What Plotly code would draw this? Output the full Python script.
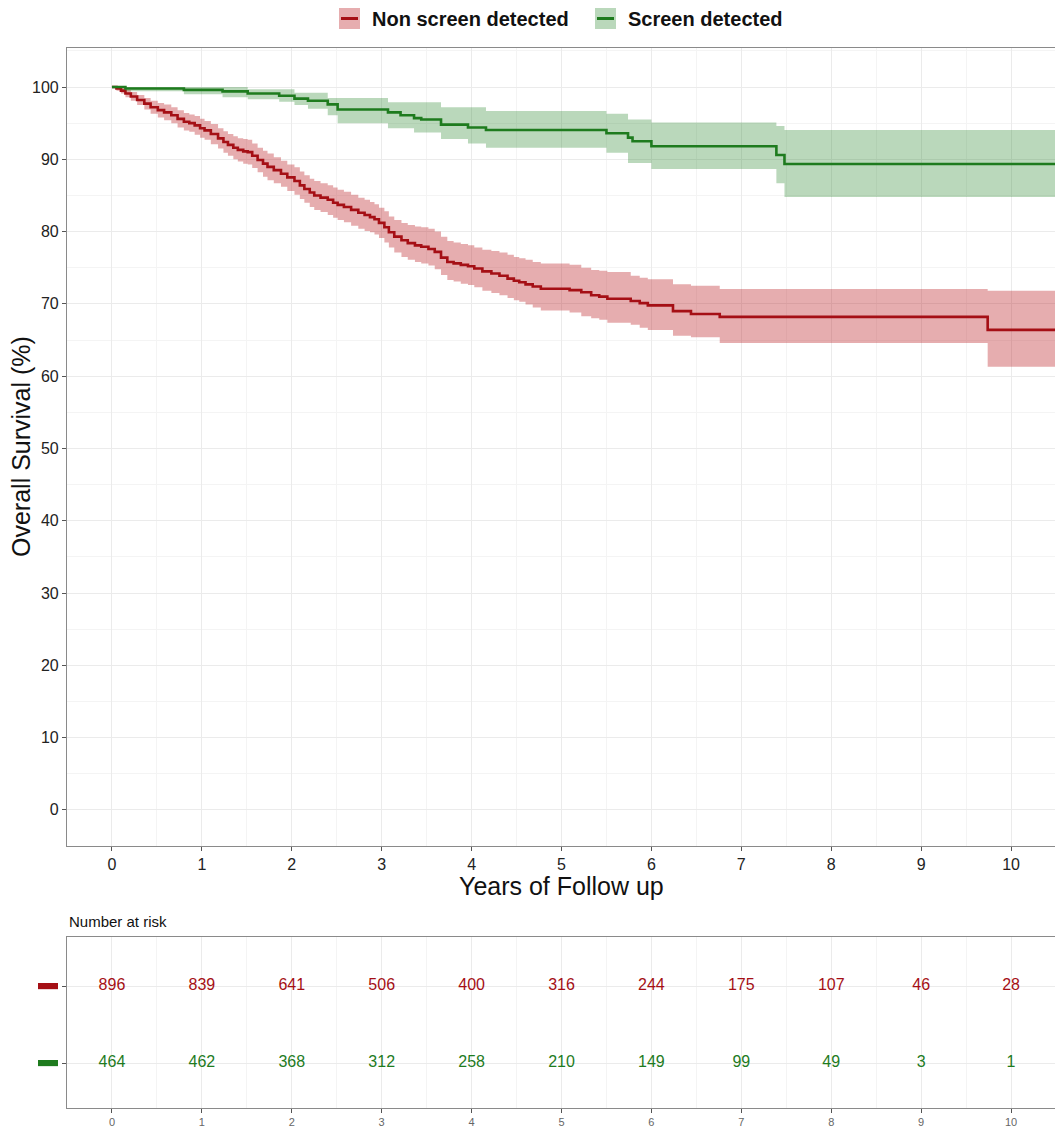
import plotly.graph_objects as go

# ---------------- data ----------------
times_non = [0.00, 0.05, 0.10, 0.15, 0.21, 0.28, 0.36, 0.43, 0.51, 0.58, 0.66, 0.73, 0.80, 0.86, 0.92, 0.98,
             1.03, 1.10, 1.18, 1.24, 1.29, 1.35, 1.40, 1.46, 1.51, 1.56, 1.62, 1.68, 1.73, 1.80, 1.88, 1.95,
             2.03, 2.09, 2.14, 2.20, 2.25, 2.32, 2.40, 2.46, 2.51, 2.58, 2.66, 2.74, 2.81, 2.87, 2.92, 2.97,
             3.03, 3.08, 3.14, 3.22, 3.29, 3.37, 3.44, 3.52, 3.59, 3.66, 3.73, 3.80, 3.88, 3.96,
             4.03, 4.12, 4.22, 4.31, 4.40, 4.47, 4.53, 4.60, 4.68, 4.77,
             5.09, 5.22, 5.33, 5.42, 5.51, 5.77, 5.87, 5.96, 6.24, 6.44, 6.76, 9.74, 10.5]
surv_non = [100.0, 99.8, 99.5, 99.1, 98.7, 98.2, 97.7, 97.2, 96.8, 96.5, 96.1, 95.6, 95.2, 95.0, 94.7, 94.3,
            94.0, 93.5, 92.9, 92.4, 92.0, 91.6, 91.3, 91.1, 91.0, 90.5, 89.9, 89.4, 88.95, 88.5, 88.0, 87.5,
            87.0, 86.4, 85.9, 85.4, 85.0, 84.7, 84.4, 84.0, 83.7, 83.4, 83.0, 82.6, 82.3, 82.0, 81.7, 81.2,
            80.6, 79.9, 79.3, 78.8, 78.4, 78.1, 77.9, 77.6, 77.2, 76.4, 75.8, 75.6, 75.4, 75.2,
            74.9, 74.5, 74.2, 73.9, 73.5, 73.2, 73.0, 72.7, 72.4, 72.1,
            71.9, 71.6, 71.2, 71.0, 70.7, 70.4, 70.1, 69.8, 69.0, 68.6, 68.2, 66.4, 66.4]
lower_non = [100.0, 99.5, 99.1, 98.6, 98.1, 97.5, 96.9, 96.3, 95.8, 95.4, 95.0, 94.4, 94.0, 93.8, 93.4, 93.0,
             92.7, 92.1, 91.5, 90.9, 90.5, 90.0, 89.7, 89.4, 89.3, 88.8, 88.2, 87.6, 87.1, 86.7, 86.2, 85.6,
             85.1, 84.5, 84.0, 83.4, 83.0, 82.7, 82.3, 81.9, 81.6, 81.3, 80.8, 80.4, 80.1, 79.9, 79.6, 79.1,
             78.5, 77.8, 77.1, 76.5, 76.1, 75.8, 75.6, 75.3, 74.8, 74.0, 73.3, 73.1, 72.8, 72.6,
             72.3, 71.8, 71.5, 71.2, 70.8, 70.5, 70.3, 69.9, 69.5, 69.1,
             68.8, 68.3, 68.0, 67.8, 67.4, 67.1, 66.7, 66.4, 65.6, 65.4, 64.6, 61.3, 61.3]
upper_non = [100.0, 100.0, 99.9, 99.6, 99.3, 98.9, 98.5, 98.1, 97.8, 97.6, 97.2, 96.8, 96.4, 96.2, 96.0, 95.6,
             95.3, 94.9, 94.3, 93.9, 93.5, 93.2, 92.9, 92.8, 92.7, 92.2, 91.6, 91.2, 90.8, 90.3, 89.8, 89.3,
             88.9, 88.3, 87.8, 87.3, 87.0, 86.7, 86.4, 86.1, 85.8, 85.5, 85.1, 84.7, 84.4, 84.1, 83.8, 83.3,
             82.8, 82.1, 81.6, 81.2, 80.9, 80.7, 80.6, 80.4, 80.0, 79.3, 78.7, 78.5, 78.3, 78.1,
             77.8, 77.5, 77.3, 77.1, 76.8, 76.5, 76.3, 76.1, 75.8, 75.6,
             75.4, 75.0, 74.7, 74.6, 74.4, 73.9, 73.6, 73.4, 72.7, 72.5, 72.06, 71.8, 71.8]

times_scr = [0.00, 0.15, 0.80, 1.23, 1.51, 1.86, 2.03, 2.18, 2.40, 2.51, 3.07, 3.21, 3.36, 3.44, 3.66, 3.96,
             4.16, 5.50, 5.74, 5.79, 6.00, 7.39, 7.48, 10.5]
surv_scr = [100.0, 99.8, 99.6, 99.4, 99.1, 98.8, 98.4, 98.1, 97.6, 96.9, 96.5, 96.1, 95.7, 95.5, 94.8, 94.4,
            94.05, 93.6, 93.0, 92.5, 91.8, 90.6, 89.35, 89.35]
lower_scr = [100.0, 99.4, 99.0, 98.6, 98.3, 97.95, 97.5, 97.0, 96.1, 95.0, 94.3, 94.3, 93.7, 93.7, 92.8, 92.2,
             91.6, 90.9, 89.5, 89.5, 88.66, 86.7, 84.8, 84.8]
upper_scr = [100.0, 100.0, 100.0, 100.0, 99.7, 99.7, 99.2, 99.2, 98.5, 98.5, 97.9, 97.9, 97.9, 97.9, 97.2, 97.2,
             96.7, 96.3, 95.5, 95.5, 95.1, 94.6, 94.05, 94.05]

risk_times = [0, 1, 2, 3, 4, 5, 6, 7, 8, 9, 10]
risk_non = [896, 839, 641, 506, 400, 316, 244, 175, 107, 46, 28]
risk_scr = [464, 462, 368, 312, 258, 210, 149, 99, 49, 3, 1]

group_names = ["Non screen detected", "Screen detected"]
y_ticks = [0, 10, 20, 30, 40, 50, 60, 70, 80, 90, 100]
x_ticks = [0, 1, 2, 3, 4, 5, 6, 7, 8, 9, 10]

# ---------------- style ----------------
OFF = 8  # page body margin of the html page
W, H = 1063 - OFF, 1129 - OFF
RED = "#A50F15"
GREEN = "#1E7B1E"
RED_FILL = "rgba(190,40,45,0.38)"
GREEN_FILL = "rgba(40,135,45,0.32)"
FONT = "Liberation Sans, Arial, sans-serif"
GRID = "#EBEBEB"
MINOR = "#F4F4F4"
BORDER = "#8A8A8A"


def px(x):
    return (x - OFF) / W


def py(y):
    return 1 - (y - OFF) / H


fig = go.Figure()


def add_group(t, s, lo, hi, line_color, fill_color, name):
    fig.add_trace(go.Scatter(x=t, y=hi, mode="lines", line=dict(width=0, shape="hv", color=fill_color),
                             showlegend=False, hoverinfo="skip"))
    fig.add_trace(go.Scatter(x=t, y=lo, mode="lines", line=dict(width=0, shape="hv", color=fill_color),
                             fill="tonexty", fillcolor=fill_color, showlegend=False, hoverinfo="skip"))
    fig.add_trace(go.Scatter(x=t, y=s, mode="lines", line=dict(width=2.6, color=line_color, shape="hv"),
                             name=name, showlegend=False))


add_group(times_non, surv_non, lower_non, upper_non, RED, RED_FILL, group_names[0])
add_group(times_scr, surv_scr, lower_scr, upper_scr, GREEN, GREEN_FILL, group_names[1])

# risk table
fig.add_trace(go.Scatter(x=risk_times, y=[2] * len(risk_times), mode="text",
                         text=[str(v) for v in risk_non], textfont=dict(color=RED, size=16, family=FONT),
                         xaxis="x2", yaxis="y2", showlegend=False, hoverinfo="skip"))
fig.add_trace(go.Scatter(x=risk_times, y=[1] * len(risk_times), mode="text",
                         text=[str(v) for v in risk_scr], textfont=dict(color=GREEN, size=16, family=FONT),
                         xaxis="x2", yaxis="y2", showlegend=False, hoverinfo="skip"))

x_dom = [px(67), px(1056)]
axis_common = dict(showline=True, mirror=True, linecolor=BORDER, linewidth=1.2, zeroline=False,
                   ticks="outside", ticklen=4, tickcolor="#555", automargin=False)

fig.update_layout(
    width=W, height=H,
    margin=dict(l=0, r=0, t=0, b=0, pad=0),
    paper_bgcolor="white", plot_bgcolor="white",
    font=dict(family=FONT, color="#222"),
    showlegend=False,
    xaxis=dict(domain=x_dom, range=[-0.5, 10.5], tickvals=x_ticks, anchor="y",
               showgrid=True, gridcolor=GRID, gridwidth=1,
               minor=dict(dtick=0.5, tick0=0, showgrid=True, gridcolor=MINOR, gridwidth=1),
               tickfont=dict(size=16, color="#222"), **axis_common),
    yaxis=dict(domain=[py(846), py(48)], range=[-5, 105.4], tickvals=y_ticks, anchor="x",
               showgrid=True, gridcolor=GRID, gridwidth=1,
               minor=dict(dtick=5, tick0=0, showgrid=True, gridcolor=MINOR, gridwidth=1),
               tickfont=dict(size=16, color="#222"), **axis_common),
    xaxis2=dict(domain=x_dom, range=[-0.5, 10.5], tickvals=x_ticks, anchor="y2",
                showgrid=True, gridcolor=GRID, gridwidth=1,
                minor=dict(dtick=0.5, tick0=0, showgrid=True, gridcolor=MINOR, gridwidth=1),
                tickfont=dict(size=11, color="#666"), **axis_common),
    yaxis2=dict(domain=[py(1108), py(937)], range=[0.416, 2.638], tickvals=[1, 2], showticklabels=False,
                anchor="x2", showgrid=True, gridcolor=GRID, gridwidth=1, **axis_common),
)

annotations = [
    dict(text="Years of Follow up", x=(px(67) + px(1056)) / 2, y=py(886), xref="paper", yref="paper",
         showarrow=False, font=dict(size=25, color="#111"), xanchor="center", yanchor="middle"),
    dict(text="Overall Survival (%)", x=px(21), y=py(447), xref="paper", yref="paper", textangle=-90,
         showarrow=False, font=dict(size=25, color="#111"), xanchor="center", yanchor="middle"),
    dict(text="Number at risk", x=px(67), y=py(921), xref="paper", yref="paper",
         showarrow=False, font=dict(size=15, color="#111"), xanchor="left", yanchor="middle"),
    dict(text="<b>" + group_names[0] + "</b>", x=px(370), y=py(19), xref="paper", yref="paper",
         showarrow=False, font=dict(size=20, color="#111"), xanchor="left", yanchor="middle"),
    dict(text="<b>" + group_names[1] + "</b>", x=px(626), y=py(19), xref="paper", yref="paper",
         showarrow=False, font=dict(size=20, color="#111"), xanchor="left", yanchor="middle"),
]
fig.update_layout(annotations=annotations)

shapes = []
# legend keys
for (x0, x1, fc, lc) in [(339, 360, RED_FILL, RED), (595, 616, GREEN_FILL, GREEN)]:
    shapes.append(dict(type="rect", xref="paper", yref="paper", x0=px(x0), x1=px(x1), y0=py(29), y1=py(8),
                       fillcolor=fc, line=dict(width=0)))
    shapes.append(dict(type="line", xref="paper", yref="paper", x0=px(x0 + 2), x1=px(x1 - 2), y0=py(18.5),
                       y1=py(18.5), line=dict(color=lc, width=3)))
# risk-table row markers
for (yv, col) in [(2, RED), (1, GREEN)]:
    shapes.append(dict(type="rect", xref="paper", yref="y2", x0=px(38), x1=px(58), y0=yv - 0.04, y1=yv + 0.04,
                       fillcolor=col, line=dict(width=0)))
fig.update_layout(shapes=shapes)

fig.write_html("out.html")
